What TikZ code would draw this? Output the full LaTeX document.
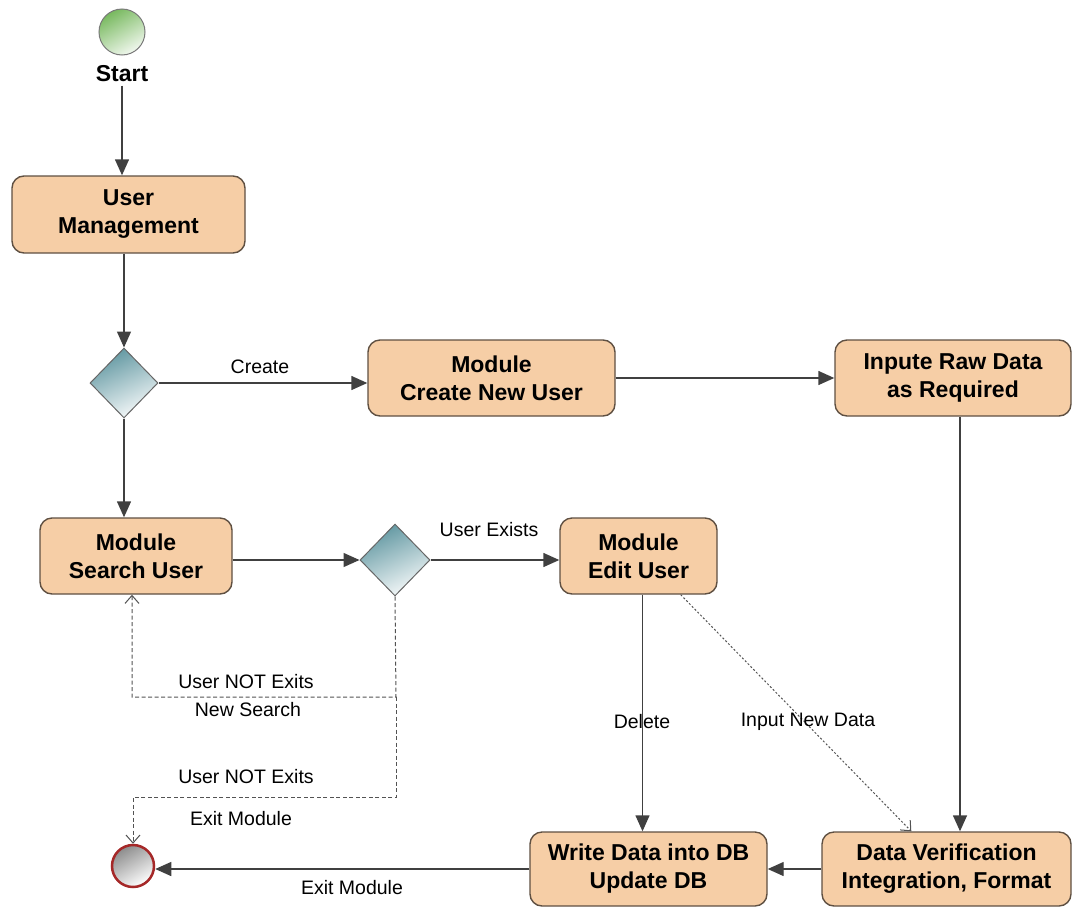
\documentclass[tikz,border=0pt]{standalone}
\usepackage{fontspec}
\setmainfont{Liberation Sans}
\usetikzlibrary{shapes.geometric,arrows.meta,calc}
\definecolor{boxfill}{RGB}{246,206,166}
\definecolor{boxdraw}{RGB}{95,80,66}
\definecolor{linec}{RGB}{64,64,64}
\definecolor{dteal}{RGB}{95,150,160}
\definecolor{sgreen}{RGB}{120,185,95}
\definecolor{ered}{RGB}{165,40,40}
\tikzset{
  act/.style={rectangle, rounded corners=12pt, draw=boxdraw, line width=1.4pt, fill=boxfill,
    align=center, font=\fontsize{23}{28}\selectfont\bfseries, inner sep=0pt},
  gate/.style={diamond, draw=linec!80, line width=1pt, top color=dteal, bottom color=white!95!dteal,
    shading angle=25, inner sep=0pt},
  flow/.style={draw=linec, line width=1.4pt, -{Triangle[length=16pt,width=14pt]}},
  alt/.style={draw=linec!90, line width=1pt, dash pattern=on 4pt off 2.5pt, -{Straight Barb[length=8pt,width=14pt]}},
  dotf/.style={draw=linec!90, line width=1pt, dash pattern=on 2pt off 2pt, -{Straight Barb[length=8pt,width=14pt]}},
  lbl/.style={font=\fontsize{19.5}{23}\selectfont, inner sep=1pt},
}
\begin{document}
\begin{tikzpicture}[x=1pt,y=-1pt]
\useasboundingbox (0,0) rectangle (1073,908);
% nodes
\node[circle, minimum size=46pt, inner sep=0pt, draw=linec!70, line width=1pt,
      top color=sgreen, bottom color=white!90!sgreen, shading angle=30] (start) at (122,32) {};
\node[font=\fontsize{23}{26}\selectfont\bfseries] (startlbl) at (122,74) {Start};
\node[act, minimum width=233pt, minimum height=77pt] (um) at (128.5,214.5) {User\\Management};
\node[gate, minimum width=68pt, minimum height=70pt] (d1) at (124,383) {};
\node[act, minimum width=247pt, minimum height=76pt] (cnu) at (491.5,378) {Module\\Create New User};
\node[act, minimum width=236pt, minimum height=76pt] (inp) at (953,378) {Inpute Raw Data\\as Required};
\node[act, minimum width=192pt, minimum height=76pt] (su) at (136,556) {Module\\Search User};
\node[gate, minimum width=70pt, minimum height=72pt] (d2) at (395,560) {};
\node[act, minimum width=157pt, minimum height=76pt] (eu) at (638.5,556) {Module\\Edit User};
\node[act, minimum width=237pt, minimum height=74pt] (wd) at (648.5,869) {Write Data into DB\\Update DB};
\node[act, minimum width=249pt, minimum height=74pt] (dv) at (946.5,869) {Data Verification\\Integration, Format};
\node[circle, minimum size=42pt, inner sep=0pt, draw=ered, line width=2.5pt,
      top color=black!45, bottom color=white, shading angle=30] (end) at (133,866) {};
\coordinate (j1) at (396,697);
\coordinate (j2) at (396,797);
\coordinate (eus) at ($(eu.south)+(4,0)$);
\coordinate (inps) at ($(inp.south)+(7,0)$);
\coordinate (eud) at ($(eu.south east)+(-37,0)$);
\coordinate (dvn) at ($(dv.north west)+(90,0)$);
\coordinate (sus) at ($(su.south)+(-4,0)$);
% connectors
\draw[flow] (startlbl.south) -- (startlbl.south |- um.north);
\draw[flow] (d1.north |- um.south) -- (d1.north);
\draw[flow] (d1.east) -- (d1.east -| cnu.west);
\draw[flow] (cnu.east) -- (inp.west);
\draw[flow] (d1.south) -- (d1.south |- su.north);
\draw[flow] (d2.west -| su.east) -- (d2.west);
\draw[flow] (d2.east) -- (d2.east -| eu.west);
\draw[flow] (eus) -- (eus |- wd.north);
\draw[flow] (inps) -- (inps |- dv.north);
\draw[dotf] (eud) -- (dvn);
\draw[flow] (dv.west) -- (wd.east);
\draw[flow] (wd.west) -- (wd.west -| end.east);
\draw[alt] (d2.south) -- (j1) -| (sus);
\draw[alt] (j1) -- (j2) -| (end.north);
% labels
\node[lbl] (lcreate) at (260,367) {Create};
\node[lbl] (lexists) at (489,530) {User Exists};
\node[lbl] (lnot1) at (246,682) {User NOT Exits};
\node[lbl] (lnews) at (248,710) {New Search};
\node[lbl] (lnot2) at (246,777) {User NOT Exits};
\node[lbl] (lexit1) at (241,819) {Exit Module};
\node[lbl] (lexit2) at (352,888) {Exit Module};
\node[lbl] (ldel) at (642,722) {Delete};
\node[lbl] (linp) at (808,722) {Input New Data};
\end{tikzpicture}
\end{document}
